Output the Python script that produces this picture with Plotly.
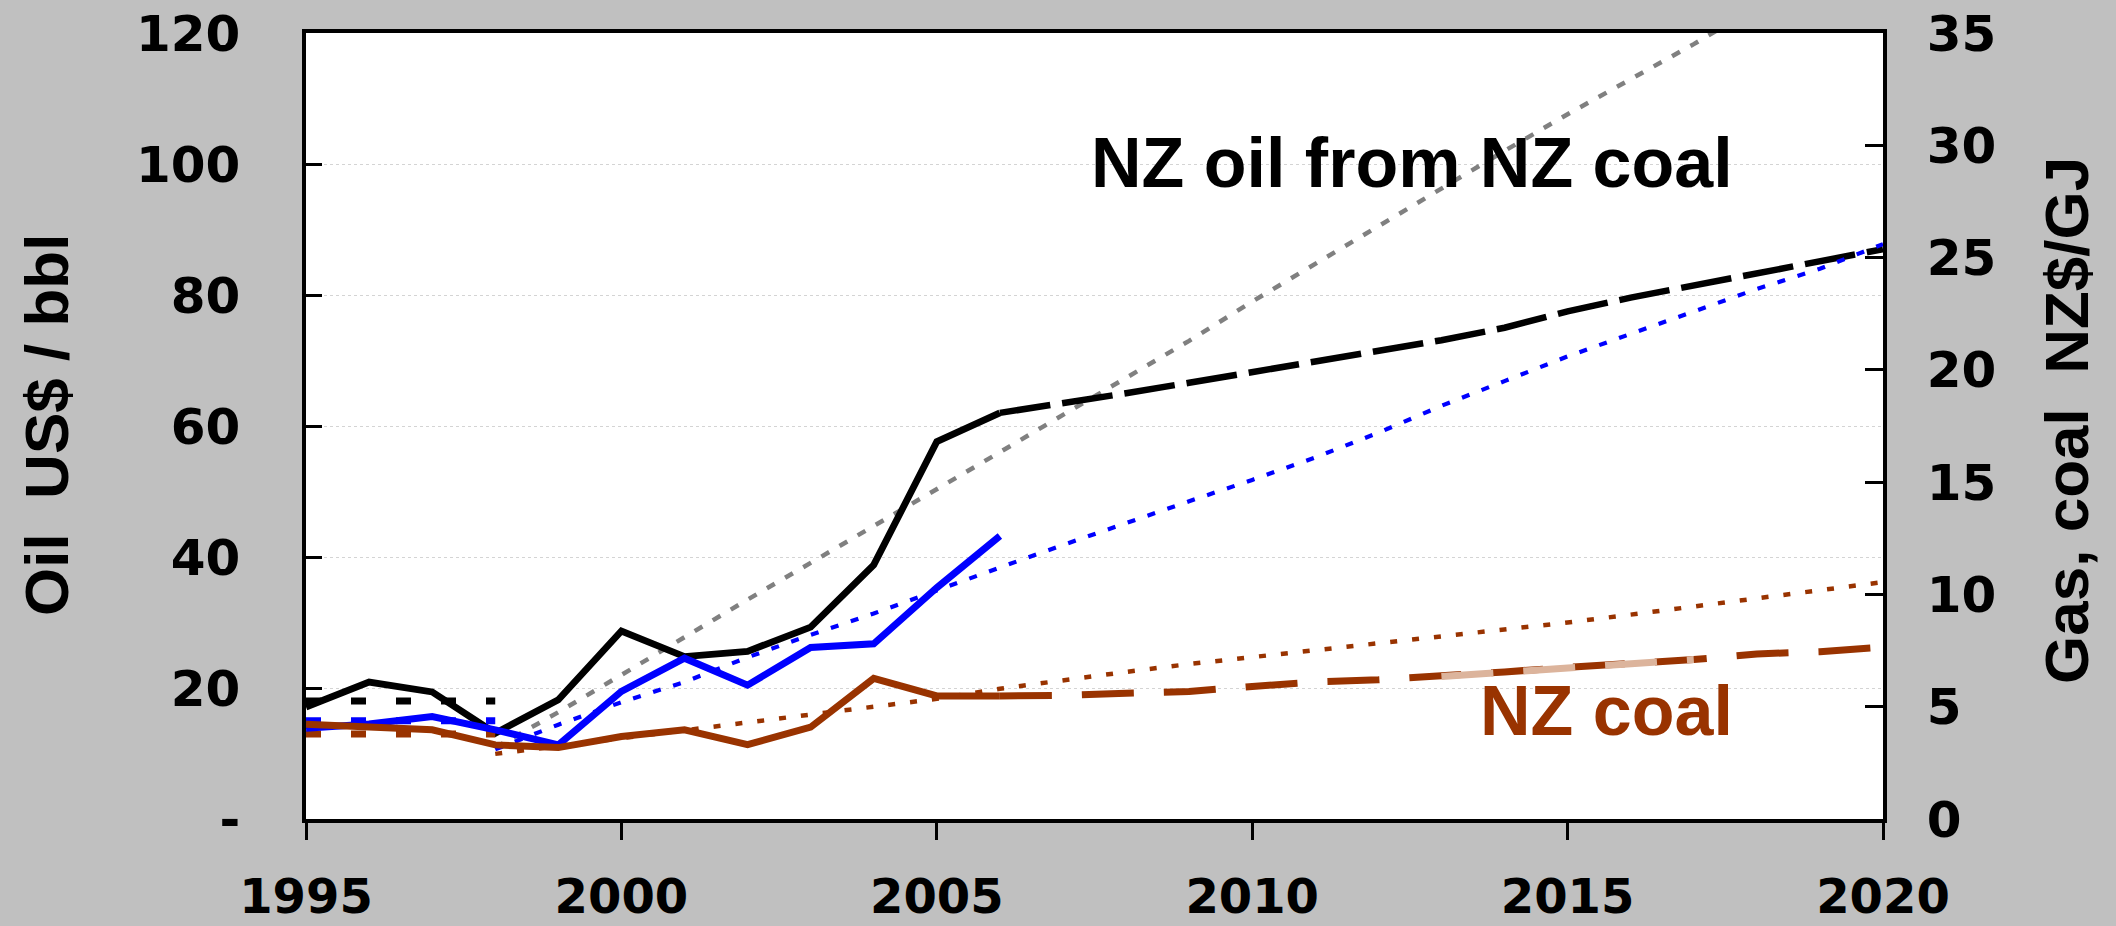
import plotly.graph_objects as go

# ---------------- data ----------------
years_hist = [1995, 1996, 1997, 1998, 1999, 2000, 2001, 2002, 2003, 2004, 2005, 2006]
oil_hist = [17.1, 20.9, 19.4, 13.1, 18.2, 28.7, 24.8, 25.6, 29.3, 38.8, 57.6, 62.0]      # US$/bbl (left)
gas_hist = [4.04, 4.23, 4.56, 3.97, 3.30, 5.68, 7.16, 5.96, 7.64, 7.80, 10.3, 12.6]     # NZ$/GJ (right)
coal_hist = [4.22, 4.12, 3.97, 3.30, 3.18, 3.67, 3.97, 3.31, 4.09, 6.26, 5.48, 5.48]    # NZ$/GJ (right)

years_early = [1995, 1996, 1997, 1998]
oil_early = [18.0, 18.0, 18.0, 18.0]
gas_early = [4.37, 4.37, 4.37, 4.37]
coal_early = [3.79, 3.79, 3.79, 3.79]

years_fcst = [2006, 2007, 2008, 2009, 2010, 2011, 2012, 2013, 2014, 2015, 2016, 2017, 2018, 2019, 2020]
oil_fcst = [62.0, 63.4, 65.0, 66.6, 68.2, 69.8, 71.6, 73.1, 75.0, 77.5, 79.6, 81.4, 83.3, 85.2, 87.0]
coal_fcst = [5.48, 5.50, 5.60, 5.68, 5.90, 6.10, 6.20, 6.35, 6.55, 6.75, 6.90, 7.10, 7.35, 7.45, 7.65]

years_tan = [2013, 2014, 2015, 2016, 2017]
coal_tan = [6.35, 6.55, 6.75, 6.90, 7.10]

years_long = [1998, 1999, 2000, 2001, 2002, 2003, 2004, 2005, 2006, 2007, 2008, 2009,
              2010, 2011, 2012, 2013, 2014, 2015, 2016, 2017, 2018, 2019, 2020]
gas_fcst = [3.1, 4.2, 5.2, 6.1, 7.2, 8.2, 9.15, 10.2, 11.2, 12.2, 13.2, 14.15,
            15.1, 16.1, 17.2, 18.4, 19.5, 20.6, 21.6, 22.6, 23.6, 24.5, 25.6]
coal_hi = [2.9, 3.25, 3.6, 3.95, 4.3, 4.65, 5.0, 5.35, 5.8, 6.2, 6.55, 6.9,
           7.2, 7.55, 7.85, 8.15, 8.45, 8.75, 9.1, 9.45, 9.8, 10.15, 10.55]

years_c2o = [1998, 1999, 2000, 2001, 2002, 2003, 2004, 2005, 2006, 2007, 2008,
             2009, 2010, 2011, 2012, 2013, 2014, 2015, 2016, 2017, 2018]
coal_oil = [10.9, 16.3, 22.0, 27.8, 33.5, 39.1, 44.7, 50.3, 56.0, 61.7, 67.3,
            73.0, 79.0, 84.8, 90.5, 96.3, 102.0, 107.6, 113.0, 118.3, 124.0]

left_ticks = [0, 20, 40, 60, 80, 100, 120]
left_labels = ["-", "20", "40", "60", "80", "100", "120"]
right_ticks = [0, 5, 10, 15, 20, 25, 30, 35]
x_ticks = [1995, 2000, 2005, 2010, 2015, 2020]

BLACK = "#000000"
BLUE = "#0000FF"
BROWN = "#993300"
TAN = "#DCB49C"
GRAY = "#808080"
BG = "#C0C0C0"

fig = go.Figure()

def add(x, y, color, width, dash="solid", axis="y"):
    fig.add_trace(go.Scatter(x=x, y=y, mode="lines", yaxis=axis,
                             line=dict(color=color, width=width, dash=dash),
                             hoverinfo="skip", showlegend=False))

# forecasts (dotted)
add(years_c2o, coal_oil, GRAY, 4.5, "9px,12px", "y")
add(years_long, gas_fcst, BLUE, 4.2, "8px,13px", "y2")
add(years_long, coal_hi, BROWN, 4.5, "7px,15px", "y2")
# long dashed projections
add(years_fcst, oil_fcst, BLACK, 6.5, "51px,12px", "y")
add(years_fcst, coal_fcst, BROWN, 7, "52px,30px", "y2")
add(years_tan, coal_tan, TAN, 7, "52px,30px", "y2")
# early dashes
add(years_early, oil_early, BLACK, 7, "15px,30px", "y")
add(years_early, gas_early, BLUE, 7, "15px,30px", "y2")
add(years_early, coal_early, BROWN, 7, "15px,30px", "y2")
# history (solid)
add(years_hist, gas_hist, BLUE, 7, "solid", "y2")
add(years_hist, coal_hist, BROWN, 7, "solid", "y2")
add(years_hist, oil_hist, BLACK, 6.8, "solid", "y")

tickfont = dict(family="DejaVu Sans", size=50, color="black", weight="bold")

fig.update_layout(
    width=2116, height=926,
    paper_bgcolor=BG, plot_bgcolor="white",
    margin=dict(l=306, r=233, t=33, b=107, autoexpand=False),
    xaxis=dict(range=[1995, 2020], tickvals=x_ticks, ticks="outside", ticklen=17,
               tickwidth=2.5, tickcolor="black", showline=True, linewidth=3.5,
               linecolor="black", mirror=True, showgrid=False, zeroline=False,
               automargin=False,
               tickfont=dict(family="DejaVu Sans", size=48, color="black", weight="bold"),
               ticklabelstandoff=16),
    yaxis=dict(range=[0, 120], tickvals=left_ticks, ticktext=left_labels, ticks="inside",
               ticklen=16, tickwidth=3, tickcolor="black", showline=True, linewidth=3.5,
               linecolor="black", showgrid=True, gridcolor="#D4D4D4", gridwidth=1,
               griddash="dot", zeroline=False, tickfont=tickfont, ticklabelstandoff=52,
               automargin=False),
    yaxis2=dict(range=[0, 35], tickvals=right_ticks, overlaying="y", side="right",
                ticks="inside", ticklen=18, tickwidth=3, tickcolor="black",
                showline=True, linewidth=3.5, linecolor="black", showgrid=False,
                zeroline=False, tickfont=tickfont, ticklabelstandoff=30,
                automargin=False),
)

titlefont = dict(family="Liberation Sans", size=62, color="black", weight="bold")
fig.add_annotation(xref="paper", yref="paper", x=-0.165, y=0.501, text="Oil\u00a0 US$ / bbl",
                   textangle=-90, showarrow=False, xanchor="center", yanchor="middle",
                   font=titlefont)
fig.add_annotation(xref="paper", yref="paper", x=1.116, y=0.5076, text="Gas, coal\u00a0 NZ$/GJ",
                   textangle=-90, showarrow=False, xanchor="center", yanchor="middle",
                   font=titlefont)
fig.add_annotation(xref="paper", yref="paper", x=0.906, y=0.8346, text="NZ oil from NZ coal",
                   showarrow=False, xanchor="right", yanchor="middle",
                   font=dict(family="Liberation Sans", size=70, color="black", weight="bold"))
fig.add_annotation(xref="paper", yref="paper", x=0.906, y=0.1374, text="NZ coal",
                   showarrow=False, xanchor="right", yanchor="middle",
                   font=dict(family="Liberation Sans", size=70, color=BROWN, weight="bold"))

fig.write_html("out.html", config={"displayModeBar": False},
               post_script="document.body.style.margin='0';document.body.style.overflow='hidden';")
